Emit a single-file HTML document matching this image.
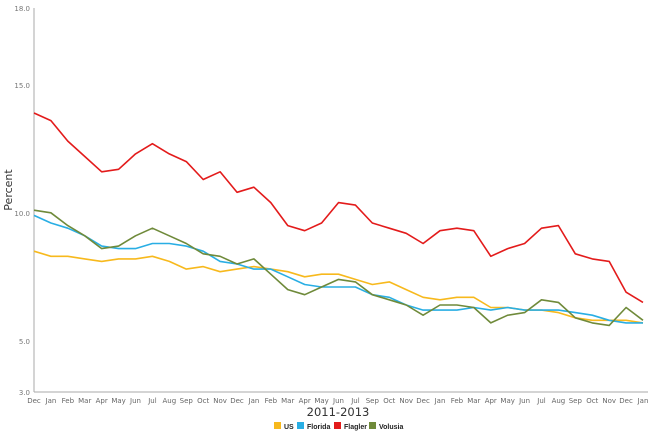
<!DOCTYPE html>
<html><head><meta charset="utf-8">
<style>
body{margin:0;background:#fff;font-family:"DejaVu Sans","Liberation Sans",sans-serif;}
svg{display:block}
</style></head>
<body>
<svg id="chart" width="650" height="433" xmlns="http://www.w3.org/2000/svg">
<g id="axes"></g>
<g id="series"></g>
<text x="12" y="190" transform="rotate(-90 12 190)" text-anchor="middle" font-size="11" fill="#333">Percent</text>
<text x="338" y="416" text-anchor="middle" font-size="11.5" fill="#333">2011-2013</text>
<g font-size="7" font-weight="bold" fill="#222" font-family="Liberation Sans, sans-serif">
 <g><rect x="274" y="422" width="7" height="7" fill="#f7b91d"/><text x="284" y="429">US</text></g>
 <g><rect x="297" y="422" width="7" height="7" fill="#29aee4"/><text x="307" y="429">Florida</text></g>
 <g><rect x="334" y="422" width="7" height="7" fill="#e31b1b"/><text x="344" y="429">Flagler</text></g>
 <g><rect x="369" y="422" width="7" height="7" fill="#6f8a3a"/><text x="379" y="429">Volusia</text></g>
</g>
</svg>
<script>
const categories=["Dec","Jan","Feb","Mar","Apr","May","Jun","Jul","Aug","Sep","Oct","Nov","Dec","Jan","Feb","Mar","Apr","May","Jun","Jul","Sep","Oct","Nov","Dec","Jan","Feb","Mar","Apr","May","Jun","Jul","Aug","Sep","Oct","Nov","Dec","Jan"];
const usValues=[8.5,8.3,8.3,8.2,8.1,8.2,8.2,8.3,8.1,7.8,7.9,7.7,7.8,7.9,7.8,7.7,7.5,7.6,7.6,7.4,7.2,7.3,7.0,6.7,6.6,6.7,6.7,6.3,6.3,6.2,6.2,6.1,5.9,5.8,5.8,5.8,5.7];
const floridaValues=[9.9,9.6,9.4,9.1,8.7,8.6,8.6,8.8,8.8,8.7,8.5,8.1,8.0,7.8,7.8,7.5,7.2,7.1,7.1,7.1,6.8,6.7,6.4,6.2,6.2,6.2,6.3,6.2,6.3,6.2,6.2,6.2,6.1,6.0,5.8,5.7,5.7];
const flaglerValues=[13.9,13.6,12.8,12.2,11.6,11.7,12.3,12.7,12.3,12.0,11.3,11.6,10.8,11.0,10.4,9.5,9.3,9.6,10.4,10.3,9.6,9.4,9.2,8.8,9.3,9.4,9.3,8.3,8.6,8.8,9.4,9.5,8.4,8.2,8.1,6.9,6.5];
const volusiaValues=[10.1,10.0,9.5,9.1,8.6,8.7,9.1,9.4,9.1,8.8,8.4,8.3,8.0,8.2,7.6,7.0,6.8,7.1,7.4,7.3,6.8,6.6,6.4,6.0,6.4,6.4,6.3,5.7,6.0,6.1,6.6,6.5,5.9,5.7,5.6,6.3,5.8];
const yTicks=[3,5,10,15,18];
const yTickLabels=["3.0","5.0","10.0","15.0","18.0"];

const NS="http://www.w3.org/2000/svg";
const X0=34,X1=643,Y0=392,Y1=8,YMIN=3,YMAX=18;
const xs=i=>X0+(X1-X0)*i/(categories.length-1);
const ys=v=>Y0-(v-YMIN)/(YMAX-YMIN)*(Y0-Y1);
function mk(t,a,p){const e=document.createElementNS(NS,t);for(const k in a)e.setAttribute(k,a[k]);p.appendChild(e);return e;}
const axes=document.getElementById('axes');
let yl=mk('line',{x1:X0,y1:Y1,x2:X0,y2:Y0,stroke:'#aaa','stroke-width':1},axes);


let xl=mk('line',{x1:X0,y1:Y0,x2:X1+5,y2:Y0,stroke:'#aaa','stroke-width':1},axes);


yTicks.forEach((v,i)=>{
 const t=mk('text',{x:X0-4,y:ys(v)+3,'text-anchor':'end','font-size':7,fill:'#777'},axes);
 t.textContent=yTickLabels[i];
 
 
});
categories.forEach((c,i)=>{
 const t=mk('text',{x:xs(i),y:403,'text-anchor':'middle','font-size':7,fill:'#666'},axes);
 t.textContent=c;
 
 
});
const ser=document.getElementById('series');
[[usValues,'#f7b91d','line-us'],[floridaValues,'#29aee4','line-florida'],[flaglerValues,'#e31b1b','line-flagler'],[volusiaValues,'#6f8a3a','line-volusia']].forEach(([vals,col,name])=>{
 const p=mk('polyline',{points:vals.map((v,i)=>xs(i).toFixed(1)+','+ys(v).toFixed(1)).join(' '),fill:'none',stroke:col,'stroke-width':1.6,'stroke-linejoin':'round'},ser);
 
 
});
</script>
</body></html>
